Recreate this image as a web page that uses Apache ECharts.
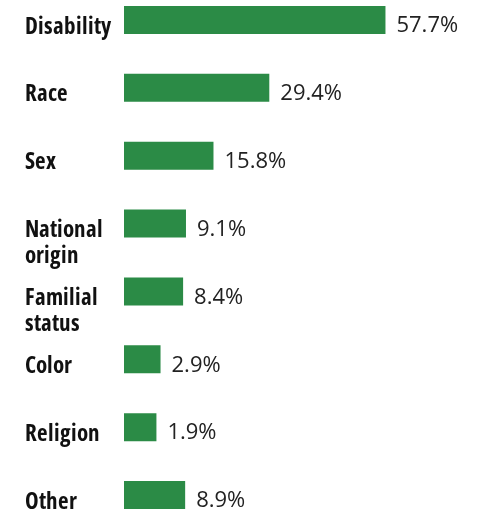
<!DOCTYPE html>
<html>
<head>
<meta charset="utf-8">
<script src="https://cdn.jsdelivr.net/npm/echarts@6/dist/echarts.min.js"></script>
<style>
@font-face { font-family: 'OpenSansCond'; font-weight: 700; font-stretch: 75%; src: local('Open Sans Bold'), local('OpenSans-Bold'), local('Open Sans'); }
html,body{margin:0;padding:0;background:#fff;}
#chart{width:477px;height:515px;}
</style>
</head>
<body>
<div id="chart"></div>
<script>
var categories = ['Disability', 'Race', 'Sex', 'National\norigin', 'Familial\nstatus', 'Color', 'Religion', 'Other'];
var shares = [57.7, 29.4, 15.8, 9.1, 8.4, 2.9, 1.9, 8.9];

function draw() {
  var chart = echarts.init(document.getElementById('chart'), null, {renderer: 'canvas'});
  chart.setOption({
    animation: false,
    backgroundColor: '#ffffff',
    grid: {left: 124, right: 0, top: 20, bottom: 17, containLabel: false},
    xAxis: {
      type: 'value', min: -6, max: 80, startValue: -6,
      show: false, splitLine: {show: false}
    },
    yAxis: {
      type: 'category', data: categories, inverse: true, boundaryGap: false,
      axisLine: {show: false}, axisTick: {show: false}, splitLine: {show: false},
      axisLabel: {
        align: 'left', margin: 99, verticalAlign: 'top',
        fontFamily: "OpenSansCond, 'Open Sans', sans-serif", fontWeight: 'bold', fontSize: 23,
        lineHeight: 26, color: '#111111', padding: [-6, 0, 0, 0]
      }
    },
    series: [{
      type: 'bar', data: shares, barWidth: 28, clip: false,
      itemStyle: {color: '#2b8b46'},
      label: {
        show: true, position: 'right', distance: 11,
        formatter: '{c}%', fontFamily: 'Open Sans', fontSize: 22,
        color: '#222222', offset: [0, 6]
      }
    }]
  });
}
document.fonts.load('bold 23px OpenSansCond').then(draw, draw);
</script>
</body>
</html>
